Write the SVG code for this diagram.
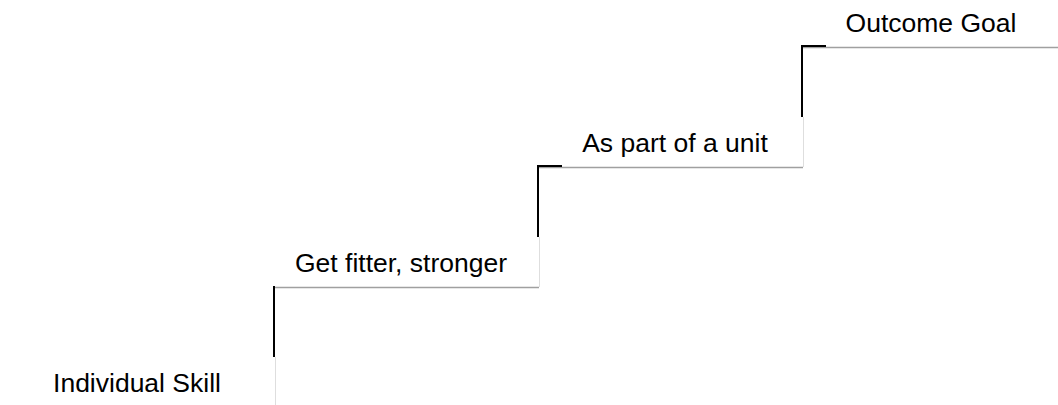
<svg xmlns="http://www.w3.org/2000/svg" width="1058" height="405" viewBox="0 0 1058 405">
<style>
.lbl{font-family:"Liberation Sans",Arial,sans-serif;font-size:26.5px;fill:#000;text-anchor:middle}
.bot{stroke:#a0a0a0;stroke-width:1.5;fill:none}
.side{stroke:#dedede;stroke-width:1;fill:none}
.conn{stroke:#000;stroke-width:2;fill:none}
</style>
<rect width="1058" height="405" fill="#fff"/>
<g id="step0">
<line class="side" x1="275.5" y1="357" x2="275.5" y2="405"/>
<text class="lbl" x="137" y="392">Individual Skill</text>
</g>
<g id="step1">
<line class="side" x1="539.5" y1="237" x2="539.5" y2="287"/>
<line class="bot" x1="274" y1="287.5" x2="539" y2="287.5"/>
<text class="lbl" x="401" y="272">Get fitter, stronger</text>
</g>
<g id="step2">
<line class="side" x1="803.5" y1="117" x2="803.5" y2="167"/>
<line class="bot" x1="538" y1="167.5" x2="803" y2="167.5"/>
<text class="lbl" x="675" y="152">As part of a unit</text>
</g>
<g id="step3">
<line class="bot" x1="802" y1="47.5" x2="1058" y2="47.5"/>
<text class="lbl" x="931" y="32">Outcome Goal</text>
</g>
<g id="connectors">
<path class="conn" d="M274 357 V286"/>
<path class="conn" d="M538 237 V166 H562"/>
<path class="conn" d="M802 117 V46 H826"/>
</g>
</svg>
